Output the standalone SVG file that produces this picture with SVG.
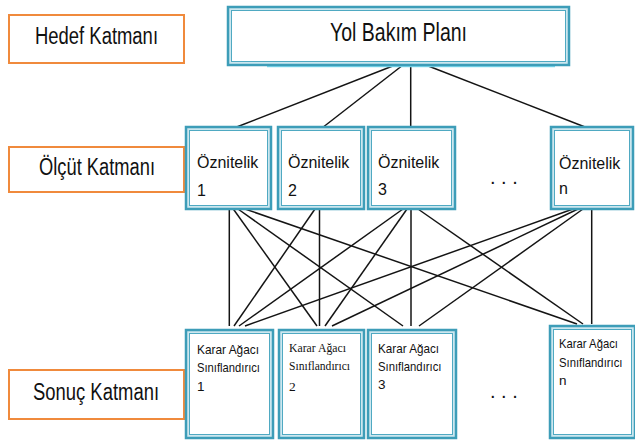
<svg xmlns="http://www.w3.org/2000/svg" width="635" height="441" viewBox="0 0 635 441">
  <style>
    .layer { fill: #ffffff; stroke: #f08a3c; stroke-width: 2; }
    .frame-out { fill: #cde7ef; stroke: #3d9db8; stroke-width: 2.5; }
    .frame-in { fill: #ffffff; stroke: #4fa9c2; stroke-width: 1; }
    .sans { font-family: "Liberation Sans", Arial, sans-serif; fill: #111111; }
    .serif { font-family: "Liberation Serif", "Times New Roman", serif; fill: #111111; }
    .big { font-size: 23px; }
    .mid { font-size: 16px; }
    .small { font-size: 13.5px; }
    .edges line { stroke: #141414; stroke-width: 1.5; }
  </style>

  <!-- layer labels -->
  <g id="hedef-katmani">
    <rect class="layer" x="9" y="15" width="175" height="48"/>
    <text class="sans big" x="96.5" y="43.5" text-anchor="middle" textLength="123" lengthAdjust="spacingAndGlyphs">Hedef Katmanı</text>
  </g>
  <g id="olcut-katmani">
    <rect class="layer" x="9" y="147" width="175" height="45"/>
    <text class="sans big" x="97" y="174.5" text-anchor="middle" textLength="116" lengthAdjust="spacingAndGlyphs">Ölçüt Katmanı</text>
  </g>
  <g id="sonuc-katmani">
    <rect class="layer" x="9" y="370" width="175" height="49"/>
    <text class="sans big" x="96" y="399.5" text-anchor="middle" textLength="126" lengthAdjust="spacingAndGlyphs">Sonuç Katmanı</text>
  </g>

  <!-- connectors -->
  <g id="connectors" class="edges">
    <!-- goal to attributes -->
    <line x1="392.7" y1="66" x2="236.7" y2="127"/>
    <line x1="401.7" y1="66" x2="323.3" y2="127"/>
    <line x1="410.7" y1="66" x2="410.7" y2="127"/>
    <line x1="428.3" y1="66" x2="585" y2="127"/>
    <!-- attribute 1 -->
    <line x1="229.3" y1="209" x2="229.3" y2="326"/>
    <line x1="233.3" y1="209" x2="317" y2="326"/>
    <line x1="238" y1="209" x2="403" y2="326"/>
    <line x1="245" y1="209" x2="577" y2="324"/>
    <!-- attribute 2 -->
    <line x1="315" y1="209" x2="234" y2="326"/>
    <line x1="319.5" y1="209" x2="319.5" y2="326"/>
    <!-- attribute 3 -->
    <line x1="403" y1="209" x2="239" y2="326"/>
    <line x1="407" y1="209" x2="325" y2="326"/>
    <line x1="411" y1="209" x2="411" y2="326"/>
    <line x1="418" y1="209" x2="583" y2="324"/>
    <!-- attribute n -->
    <line x1="573" y1="209" x2="245" y2="326"/>
    <line x1="578" y1="209" x2="332" y2="326"/>
    <line x1="583" y1="209" x2="419" y2="326"/>
    <line x1="591.7" y1="209" x2="591.7" y2="324"/>
  </g>

  <!-- goal -->
  <g id="yol-bakim-plani">
    <line x1="267" y1="66.5" x2="555" y2="66.5" stroke="#7fdcf0" stroke-width="1.5"/>
    <rect class="frame-out" x="228" y="7" width="341" height="58"/>
    <rect class="frame-in" x="231.5" y="10.5" width="334" height="51"/>
    <text class="sans" font-size="25" x="398.5" y="41" text-anchor="middle" textLength="137" lengthAdjust="spacingAndGlyphs">Yol Bakım Planı</text>
  </g>

  <!-- attributes -->
  <g id="oznitelik-1">
    <rect class="frame-out" x="186" y="127" width="85" height="82"/>
    <rect class="frame-in" x="189.5" y="130.5" width="78" height="75"/>
    <text class="sans mid" x="197" y="168">Öznitelik</text>
    <text class="sans mid" x="197" y="196">1</text>
  </g>
  <g id="oznitelik-2">
    <rect class="frame-out" x="278" y="127" width="86" height="82"/>
    <rect class="frame-in" x="281.5" y="130.5" width="79" height="75"/>
    <text class="sans mid" x="288" y="168">Öznitelik</text>
    <text class="sans mid" x="288" y="196">2</text>
  </g>
  <g id="oznitelik-3">
    <rect class="frame-out" x="368" y="127" width="87" height="82"/>
    <rect class="frame-in" x="371.5" y="130.5" width="80" height="75"/>
    <text class="sans mid" x="378" y="168">Öznitelik</text>
    <text class="sans mid" x="378" y="195">3</text>
  </g>
  <text class="sans" font-size="20" x="490" y="183.5">. . .</text>
  <g id="oznitelik-n">
    <rect class="frame-out" x="551" y="127" width="82" height="82"/>
    <rect class="frame-in" x="554.5" y="130.5" width="75" height="75"/>
    <text class="sans mid" x="559" y="169">Öznitelik</text>
    <text class="sans mid" x="559" y="194">n</text>
  </g>

  <!-- classifiers -->
  <g id="karar-agaci-1">
    <rect class="frame-out" x="186" y="330" width="87" height="108"/>
    <rect class="frame-in" x="189.5" y="333.5" width="80" height="101"/>
    <text class="sans small" x="197" y="354" textLength="62" lengthAdjust="spacingAndGlyphs">Karar Ağacı</text>
    <text class="sans small" x="197" y="372" textLength="63" lengthAdjust="spacingAndGlyphs">Sınıflandırıcı</text>
    <text class="sans small" x="197" y="391">1</text>
  </g>
  <g id="karar-agaci-2">
    <rect class="frame-out" x="279" y="330" width="85" height="108"/>
    <rect class="frame-in" x="282.5" y="333.5" width="78" height="101"/>
    <text class="serif small" x="289" y="352" textLength="57" lengthAdjust="spacingAndGlyphs">Karar Ağacı</text>
    <text class="serif small" x="289" y="370" textLength="61" lengthAdjust="spacingAndGlyphs">Sınıflandırıcı</text>
    <text class="serif small" x="289" y="391">2</text>
  </g>
  <g id="karar-agaci-3">
    <rect class="frame-out" x="368" y="330" width="88" height="108"/>
    <rect class="frame-in" x="371.5" y="333.5" width="81" height="101"/>
    <text class="sans small" x="378" y="353" textLength="61" lengthAdjust="spacingAndGlyphs">Karar Ağacı</text>
    <text class="sans small" x="378" y="371" textLength="63.5" lengthAdjust="spacingAndGlyphs">Sınıflandırıcı</text>
    <text class="sans small" x="378" y="389">3</text>
  </g>
  <text class="sans" font-size="20" x="490" y="398">. . .</text>
  <g id="karar-agaci-n">
    <rect class="frame-out" x="550" y="326" width="85" height="112"/>
    <rect class="frame-in" x="553.5" y="329.5" width="78" height="105"/>
    <text class="sans small" x="559" y="348" textLength="59" lengthAdjust="spacingAndGlyphs">Karar Ağacı</text>
    <text class="sans small" x="559" y="367" textLength="63.5" lengthAdjust="spacingAndGlyphs">Sınıflandırıcı</text>
    <text class="sans small" x="559" y="385">n</text>
  </g>
</svg>
